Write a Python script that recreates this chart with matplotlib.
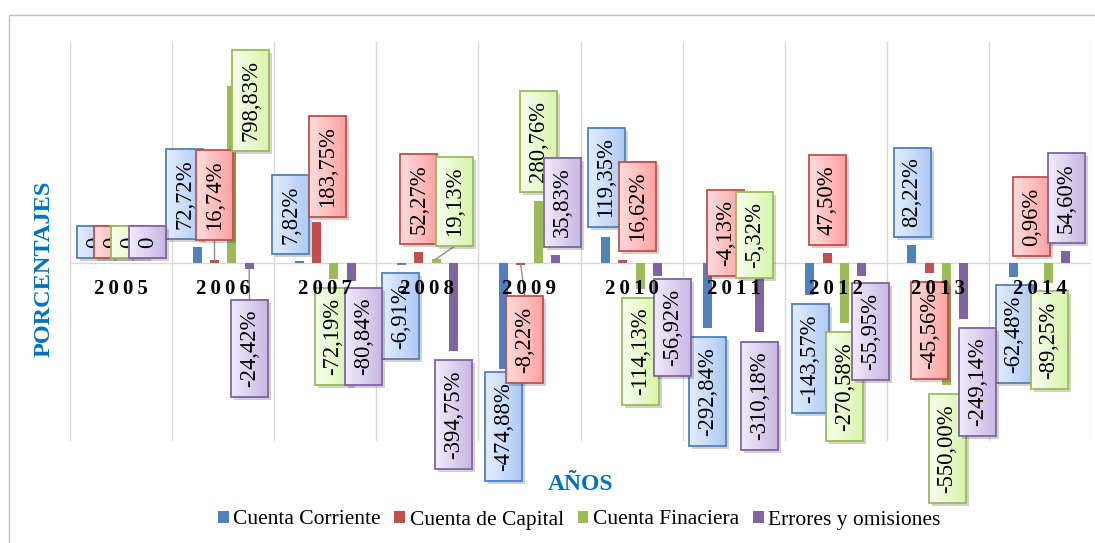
import numpy as np
import matplotlib
matplotlib.use('Agg')
import matplotlib.pyplot as plt
from matplotlib.patches import Rectangle, Patch
from matplotlib.colors import LinearSegmentedColormap

plt.rcParams['font.family'] = ['Liberation Serif', 'DejaVu Serif']

# Data (percentages)
years = ['2005', '2006', '2007', '2008', '2009', '2010', '2011', '2012', '2013', '2014']
series_names = ['Cuenta Corriente', 'Cuenta de Capital', 'Cuenta Finaciera', 'Errores y omisiones']
cuenta_corriente = [0, 72.72, 7.82, -6.91, -474.88, 119.35, -292.84, -143.57, 82.22, -62.48]
cuenta_capital = [0, 16.74, 183.75, 52.27, -8.22, 16.62, -4.13, 47.50, -45.56, 0.96]
cuenta_financiera = [0, 798.83, -72.19, 19.13, 280.76, -114.13, -5.32, -270.58, -550.00, -89.25]
errores_omisiones = [0, -24.42, -80.84, -394.75, 35.83, -56.92, -310.18, -55.95, -249.14, 54.60]

series = [cuenta_corriente, cuenta_capital, cuenta_financiera, errores_omisiones]
colors = ['#4F81BD', '#C0504D', '#9BBB59', '#8064A2']
# label box gradients (left, right)
box_grad = [('#E3EDFF', '#AFCAF6'), ('#FFDCDC', '#FFA2A2'),
            ('#F8FFEE', '#D8F4AC'), ('#F1EBFA', '#C8B8E4')]

# where the (manually moved) data labels sit: x offset from year centre, y in data units
label_dx = [
    [-0.25, -0.374, -0.336, -0.259, -0.25, -0.25, -0.256, -0.252, -0.253, -0.254],
    [-0.084, -0.085, 0.018, -0.082, -0.044, 0.058, -0.08, -0.081, -0.082, -0.083],
    [0.083, 0.268, 0.076, 0.266, 0.088, 0.088, 0.209, 0.09, 0.09, 0.089],
    [0.259, 0.258, 0.379, 0.256, 0.324, 0.401, 0.258, 0.341, 0.388, 0.261],
]
label_y = [
    [95, 311, 219, -238, -735, 386, -577, -429, 318, -319],
    [95, 307, 437, 289, -343, 255, 136, 284, -303, 210],
    [95, 734, -330, 278, 548, -397, 127, -555, -834, -346],
    [95, -384, -330, -681, 273, -289, -598, -307, -535, 293],
]
# labels that have a leader line back to their bar: (year index, series index)
leaders = [(1, 1), (1, 3), (3, 2), (4, 1)]


def fmt(v):
    if v == 0:
        return '0'
    return f'{v:.2f}%'.replace('.', ',')


W, H = 1095, 543
fig = plt.figure(figsize=(W / 100, H / 100), dpi=100)
ax = fig.add_axes([70 / W, 1 - 441 / H, 1021 / W, 400 / H])

x = np.arange(len(years))
offsets = (np.arange(4) - 1.5) * 0.17
bar_w = 0.088

# gridlines between years + zero line
ax.vlines(np.arange(-0.5, len(years) + 0.5, 1), -800, 1000, color='#D9D9D9', lw=1, zorder=0.5)
ax.axhline(0, color='#D9D9D9', lw=1, zorder=0.6)

for s, vals in enumerate(series):
    ax.bar(x + offsets[s], vals, width=bar_w, color=colors[s], zorder=2)

ax.set_xlim(-0.5, len(years) - 0.5)
ax.set_ylim(-800, 1000)
for sp in ax.spines.values():
    sp.set_visible(False)
ax.set_xticks([])
ax.set_yticks([])

# year labels (letter-spaced)
for i, yr in enumerate(years):
    ax.text(i, -116, '\u2009'.join(yr), ha='center', va='center', fontsize=15,
            fontweight='bold', zorder=60)

# data label texts
texts = []
for s, vals in enumerate(series):
    for i, v in enumerate(vals):
        z = 10 + s + i * 0.05
        t = ax.text(i + label_dx[s][i], label_y[s][i], fmt(v), rotation=90,
                    ha='center', va='center', fontsize=16.3, zorder=z + 0.04,
                    clip_on=False)
        texts.append((s, i, t, z))

fig.canvas.draw()
renderer = fig.canvas.get_renderer()
inv = ax.transData.inverted()
boxes = {}
for s, i, t, z in texts:
    bb = t.get_window_extent(renderer)
    cx = (bb.x0 + bb.x1) / 2
    x0, x1 = cx - 18.5, cx + 18.5
    y0, y1 = bb.y0 - 10, bb.y1 + 10
    (dx0, dy0), (dx1, dy1) = inv.transform([(x0, y0), (x1, y1)])
    (sx0, sy0), (sx1, sy1) = inv.transform([(x0 + 3, y0 - 3), (x1 + 3, y1 - 3)])
    boxes[(i, s)] = (dx0, dx1, dy0, dy1)
    # shadow
    ax.add_patch(Rectangle((sx0, sy0), sx1 - sx0, sy1 - sy0, facecolor='black',
                           alpha=0.18, edgecolor='none', zorder=z, clip_on=False))
    # gradient fill
    cmap = LinearSegmentedColormap.from_list('g', box_grad[s])
    im = ax.imshow(np.linspace(0, 1, 64).reshape(1, -1), cmap=cmap,
                   extent=(dx0, dx1, dy0, dy1), aspect='auto', zorder=z + 0.01,
                   interpolation='bilinear')
    im.set_clip_on(False)
    ax.add_patch(Rectangle((dx0, dy0), dx1 - dx0, dy1 - dy0, fill=False,
                           edgecolor=colors[s], lw=1.3, zorder=z + 0.02, clip_on=False))

# leader lines
for i, s in leaders:
    bx = i + offsets[s]
    v = series[s][i]
    dx0, dx1, dy0, dy1 = boxes[(i, s)]
    ly = dy0 if label_y[s][i] > v else dy1
    ax.plot([bx, (dx0 + dx1) / 2], [v, ly], color='#8C8C8C', lw=1, zorder=3)

ax.set_xlim(-0.5, len(years) - 0.5)
ax.set_ylim(-800, 1000)

# axis titles
fig.text(44 / W, 1 - 269 / H, 'PORCENTAJES', rotation=90, color='#0070C0',
         fontweight='bold', fontsize=17.5, ha='center', va='center')
fig.text(581 / W, 1 - 484 / H, 'AÑOS', color='#0070C0', fontweight='bold',
         fontsize=17, ha='center', va='center')

handles = [Patch(facecolor=c, edgecolor='none', label=n) for c, n in zip(colors, series_names)]
fig.legend(handles=handles, loc='center', bbox_to_anchor=(579 / W, 1 - 520 / H), ncol=4,
           frameon=False, fontsize=15.5, handlelength=0.5, handleheight=0.5,
           handletextpad=0.2, columnspacing=0.65, borderaxespad=0)

# chart area border (cropped on the right and bottom)
fig.patches.append(Rectangle((9 / W, -0.1), 1.2, 1 - 15 / H + 0.1, transform=fig.transFigure,
                             fill=False, edgecolor='#BFBFBF', lw=1))

fig.savefig('out.png', dpi=100)
